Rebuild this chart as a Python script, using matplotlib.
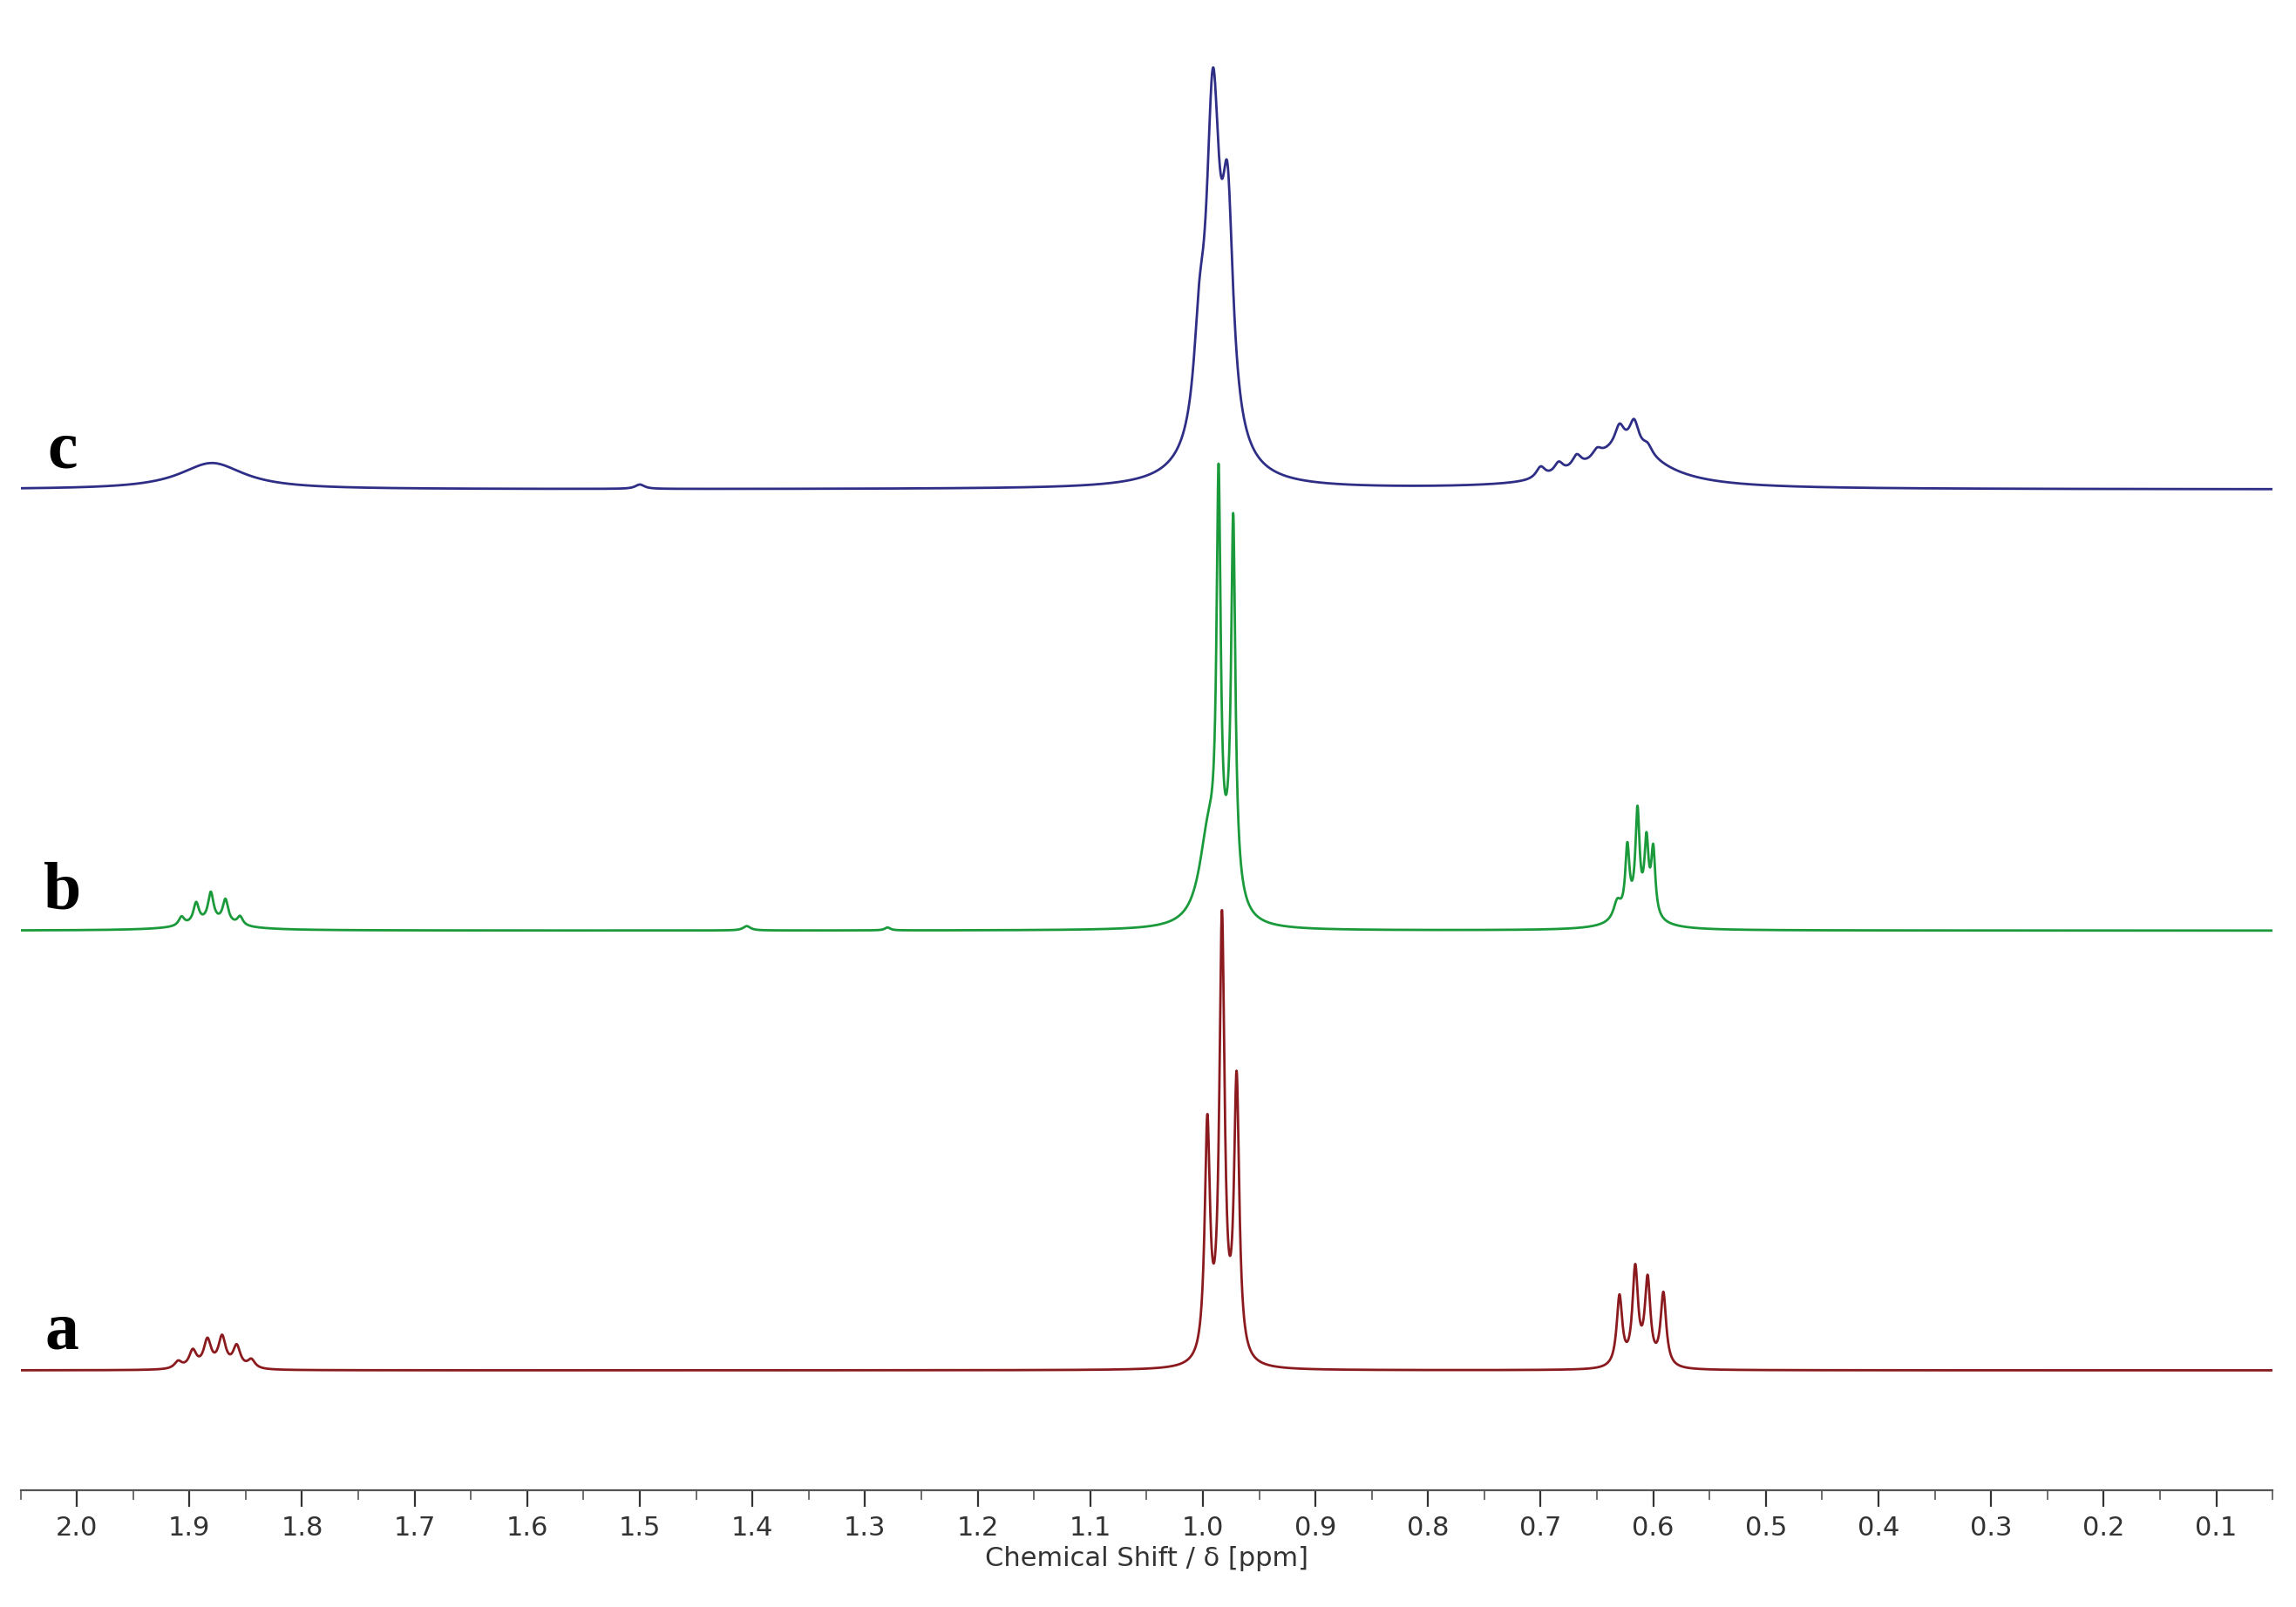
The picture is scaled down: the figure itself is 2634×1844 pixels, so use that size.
import numpy as np
import matplotlib
matplotlib.use("Agg")
import matplotlib.pyplot as plt

# Peak lists (ppm, height, half-width) per spectrum
a_pos = [0.996, 0.983, 0.970, 0.630, 0.616, 0.605, 0.591, 1.910, 1.897, 1.884, 1.871, 1.858, 1.845]
a_h   = [160, 300, 190, 48, 66, 58, 50, 5, 12, 19, 21, 15, 6]
a_w   = [0.0028, 0.0028, 0.0028, 0.003, 0.003, 0.003, 0.003, 0.004, 0.004, 0.004, 0.004, 0.004, 0.004]

b_pos = [0.995, 0.986, 0.973, 0.975, 0.632, 0.623, 0.614, 0.606, 0.600, 0.615, 1.907, 1.894, 1.881, 1.868, 1.855, 1.880, 1.405, 1.28]
b_h   = [60, 270, 240, 30, 12, 45, 68, 48, 45, 10, 6, 14, 20, 16, 6, 5, 3, 2]
b_w   = [0.010, 0.0022, 0.0022, 0.008, 0.004, 0.0022, 0.0022, 0.0022, 0.0022, 0.02, 0.003, 0.003, 0.003, 0.003, 0.003, 0.03, 0.004, 0.003]

c_pos = [1.003, 0.991, 0.978, 0.990, 0.700, 0.684, 0.668, 0.650, 0.630, 0.617, 0.605, 0.625, 1.88, 1.50]
c_h   = [60, 230, 150, 20, 8, 8, 9, 6, 14, 18, 6, 28, 18, 3]
c_w   = [0.006, 0.007, 0.006, 0.03, 0.005, 0.005, 0.005, 0.005, 0.005, 0.005, 0.005, 0.04, 0.035, 0.005]

offsets = [82, 383, 685]
labels = ["a", "b", "c"]
colors = ["#8b1a1f", "#1a9a3a", "#2e2e86"]

ticks = [2.0, 1.9, 1.8, 1.7, 1.6, 1.5, 1.4, 1.3, 1.2, 1.1, 1.0, 0.9, 0.8, 0.7, 0.6, 0.5, 0.4, 0.3, 0.2, 0.1]

x = np.linspace(2.05, 0.05, 8000)

def spectrum(pos, h, w):
    y = np.zeros_like(x)
    for p, hh, ww in zip(pos, h, w):
        y += hh * ww**2 / ((x - p)**2 + ww**2)
    return y

fig = plt.figure(figsize=(13.17, 9.22), dpi=200)
ax = fig.add_axes([14/1568, 80/1100, 1538/1568, 1020/1100])
for (pos, h, w), off, lab, col in zip([(a_pos, a_h, a_w), (b_pos, b_h, b_w), (c_pos, c_h, c_w)], offsets, labels, colors):
    ax.plot(x, spectrum(pos, h, w) + off, color=col, lw=1.0)
    ax.text(2.013, off + 5, lab, family="Liberation Serif", fontweight="bold", fontsize=28,
            ha="center", va="bottom", color="black")

ax.set_xlim(2.049, 0.052)
ax.set_ylim(0, 1020)
for s in ["top", "left", "right"]:
    ax.spines[s].set_visible(False)
ax.spines["bottom"].set_color("#555555")
ax.set_yticks([])
ax.set_xticks(ticks)
ax.set_xticklabels([f"{t:.1f}" for t in ticks])
ax.set_xticks(np.arange(0.05, 2.06, 0.05), minor=True)
ax.tick_params(axis="x", which="major", length=7, labelsize=11, colors="#333333")
ax.tick_params(axis="x", which="minor", length=4, colors="#555555")
ax.set_xlabel("Chemical Shift / δ [ppm]", fontsize=11, color="#333333", labelpad=2)
fig.savefig("out.png", dpi=200)
